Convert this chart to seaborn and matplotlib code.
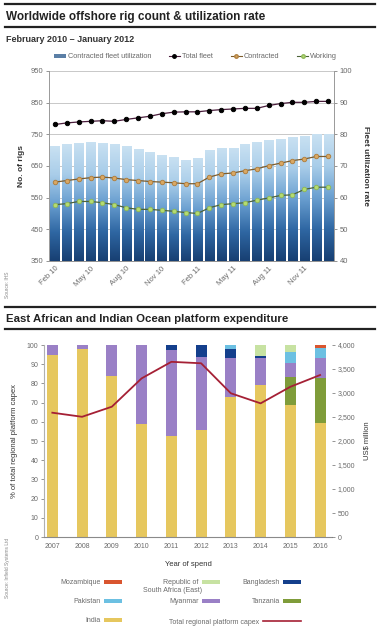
import numpy as np
import pandas as pd
import seaborn as sns
import matplotlib.pyplot as plt
from matplotlib.patches import Patch
from matplotlib.lines import Line2D
from matplotlib.colors import LinearSegmentedColormap

# ---- top chart data: Feb 2010 - Jan 2012 ----
months = ['Feb 10', 'Mar 10', 'Apr 10', 'May 10', 'Jun 10', 'Jul 10', 'Aug 10', 'Sep 10',
          'Oct 10', 'Nov 10', 'Dec 10', 'Jan 11', 'Feb 11', 'Mar 11', 'Apr 11', 'May 11',
          'Jun 11', 'Jul 11', 'Aug 11', 'Sep 11', 'Oct 11', 'Nov 11', 'Dec 11', 'Jan 12']
tick_months = ['Feb 10', 'May 10', 'Aug 10', 'Nov 10', 'Feb 11', 'May 11', 'Aug 11', 'Nov 11']
utilization = [76.2, 76.9, 77.4, 77.6, 77.4, 76.8, 76.2, 75.3, 74.5, 73.4, 72.8, 71.9,
               72.6, 75.0, 75.8, 75.8, 76.9, 77.6, 78.1, 78.6, 79.0, 79.5, 80.0, 80.0]
total_fleet = [781, 786, 789, 791, 793, 791, 797, 802, 807, 815, 820, 821,
               821, 825, 828, 830, 832, 832, 841, 847, 851, 851, 854, 854]
contracted = [599, 604, 609, 613, 615, 612, 607, 604, 601, 599, 597, 594,
              594, 615, 625, 628, 635, 641, 651, 659, 667, 672, 680, 680]
working = [528, 531, 538, 538, 534, 528, 518, 513, 513, 510, 507, 503,
           500, 518, 528, 531, 534, 542, 549, 557, 559, 576, 583, 583]

# ---- bottom chart data: share of regional platform capex (%) ----
years = ['2007', '2008', '2009', '2010', '2011', '2012', '2013', '2014', '2015', '2016']
india = [95, 98, 84, 59, 52.5, 56, 73, 79, 69, 59.4]
tanzania = [0, 0, 0, 0, 0, 0, 0, 0, 14.6, 23.3]
myanmar = [5, 2, 16, 41, 45, 38, 20, 14, 6.9, 10.3]
bangladesh = [0, 0, 0, 0, 2.5, 6, 5, 1.5, 0, 0]
pakistan = [0, 0, 0, 0, 0, 0, 2, 0, 6, 5.3]
rsa_east = [0, 0, 0, 0, 0, 0, 0, 5.5, 3.5, 0]
mozambique = [0, 0, 0, 0, 0, 0, 0, 0, 0, 1.7]
total_capex = [2590, 2505, 2715, 3305, 3650, 3620, 2995, 2785, 3130, 3375]

plt.rcParams['font.family'] = ['Liberation Sans', 'DejaVu Sans']
grey = '#6a6a6a'

fig = plt.figure(figsize=(3.84, 6.4), dpi=100)

# ================= top chart =================
ax_u = fig.add_axes([0.1276, 0.5922, 0.7422, 0.2969])
rig = pd.DataFrame({'month': months, 'util': utilization, 'total': total_fleet,
                    'contracted': contracted, 'working': working})
sns.barplot(data=rig, x='month', y='util', color='#4d86bd', saturation=1, width=0.76,
            ax=ax_u, zorder=2)
ax_u.set_ylim(40, 100)
ax_u.set_yticks(range(40, 101, 10))

# gradient fill inside every bar
grad_cmap = LinearSegmentedColormap.from_list(
    'rig', ['#173f72', '#2f67a3', '#6a9fd0', '#a9cde9', '#c9e1f2'])
grad = np.linspace(0, 1, 256).reshape(-1, 1)
for bar in ax_u.patches:
    x0, w, h = bar.get_x(), bar.get_width(), bar.get_height()
    im = ax_u.imshow(grad, extent=[x0, x0 + w, 40, h], origin='lower', cmap=grad_cmap,
                     aspect='auto', zorder=2.1)
    im.set_clip_path(bar)
ax_u.set_xlim(-0.5, len(months) - 0.5)
ax_u.set_ylim(40, 100)

ax_r = ax_u.twinx()
sns.pointplot(data=rig, x='month', y='total', ax=ax_r, color='#4a1d3c', errorbar=None,
              linewidth=0.9, markersize=3.2, markerfacecolor='black', markeredgecolor='black')
sns.pointplot(data=rig, x='month', y='contracted', ax=ax_r, color='#7d5c2c', errorbar=None,
              linewidth=0.9, markersize=3.2, markerfacecolor='#d9a864', markeredgecolor='#b08040')
sns.pointplot(data=rig, x='month', y='working', ax=ax_r, color='#4c6338', errorbar=None,
              linewidth=0.9, markersize=3.2, markerfacecolor='#b5dc72', markeredgecolor='#8fb85a')
ax_r.set_ylim(350, 950)
ax_r.set_yticks(range(350, 951, 100))
ax_r.set_xlim(-0.5, len(months) - 0.5)

# swap sides: rigs on the left, utilization on the right
ax_u.yaxis.tick_right()
ax_u.yaxis.set_label_position('right')
ax_r.yaxis.tick_left()
ax_r.yaxis.set_label_position('left')
ax_u.set_ylabel('Fleet utilization rate', rotation=270, labelpad=12, fontsize=6,
                fontweight='bold', color='#333333')
ax_r.set_ylabel('No. of rigs', fontsize=6, fontweight='bold', color='#333333', labelpad=4)
ax_u.set_xlabel('')
ax_r.set_xlabel('')

ax_u.set_axisbelow(True)
ax_u.yaxis.grid(True, color='#c8c8c8', linewidth=0.7)
ax_u.set_xticks([months.index(m) for m in tick_months])
ax_u.set_xticklabels(tick_months, rotation=45, ha='right', rotation_mode='anchor')
for a in (ax_u, ax_r):
    a.tick_params(labelsize=5.5, colors=grey, length=2, width=0.5, pad=2)
    for s in a.spines.values():
        s.set_color('#9a9a9a')
        s.set_linewidth(0.6)
    a.spines['top'].set_visible(False)
ax_u.spines['bottom'].set_color('#555555')
ax_u.tick_params(axis='x', length=0, pad=3)

fig.legend(handles=[Patch(facecolor='#5b7fa6', label='Contracted fleet utilization'),
                    Line2D([], [], color='#4a1d3c', marker='o', mfc='black', mec='black',
                           ms=2.5, lw=0.8, label='Total fleet'),
                    Line2D([], [], color='#7d5c2c', marker='o', mfc='#d9a864', mec='#b08040',
                           ms=2.5, lw=0.8, label='Contracted'),
                    Line2D([], [], color='#4c6338', marker='o', mfc='#b5dc72', mec='#8fb85a',
                           ms=2.5, lw=0.8, label='Working')],
           loc='center', bbox_to_anchor=(0.51, 0.911), ncol=4, frameon=False, fontsize=5.3,
           handlelength=1.5, handleheight=0.6, handletextpad=0.3, columnspacing=2.4,
           labelcolor=grey)

# ================= bottom chart =================
ax_b = fig.add_axes([0.1146, 0.1609, 0.75, 0.3])
layers = [('India', india, '#e6c75e'), ('Tanzania', tanzania, '#7f9c3a'),
          ('Myanmar', myanmar, '#9a80c6'), ('Bangladesh', bangladesh, '#143f8c'),
          ('Pakistan', pakistan, '#6cc0e2'), ('Republic of', rsa_east, '#c7e2a2'),
          ('Mozambique', mozambique, '#d9552f')]
stack = np.cumsum([vals for _, vals, _ in layers], axis=0)
for (name, _, col), tops in reversed(list(zip(layers, stack))):
    sns.barplot(x=years, y=tops, color=col, saturation=1, width=0.37, ax=ax_b)
ax_b.set_ylim(0, 100)
ax_b.set_yticks(range(0, 101, 10))
ax_b.set_xlim(-0.28, 9.4)
ax_b.set_xlabel('Year of spend', fontsize=5.5, color='#333333', labelpad=8)
ax_b.set_ylabel('% of total regional platform capex', fontsize=5.5, color='#333333', labelpad=6)

ax_c = ax_b.twinx()
sns.lineplot(x=years, y=total_capex, ax=ax_c, color='#a52035', linewidth=1.3, sort=False)
ax_c.set_ylim(0, 4000)
ax_c.set_yticks(range(0, 4001, 500))
ax_c.set_yticklabels([f'{v:,}' for v in range(0, 4001, 500)])
ax_c.set_ylabel('US$ million', fontsize=5.5, color='#333333', labelpad=6)
ax_c.set_xlim(-0.28, 9.4)

for a in (ax_b, ax_c):
    a.tick_params(labelsize=5, colors=grey, length=2, width=0.5, pad=2)
    for s in a.spines.values():
        s.set_visible(False)
ax_b.spines['left'].set_visible(True)
ax_b.spines['left'].set_color('#b0b0b0')
ax_b.spines['bottom'].set_visible(True)
ax_b.spines['bottom'].set_color('#8a8a8a')
ax_b.tick_params(axis='x', length=0, pad=4)

# legend: three right-aligned columns, label before swatch
leg_kw = dict(loc='upper right', frameon=False, markerfirst=False, fontsize=5,
              handlelength=2.5, handleheight=0.5, handletextpad=0.5, labelspacing=1.76,
              labelcolor=grey)
columns = [([6, 4, 0], 0.333), ([5, 2], 0.588), ([3, 1], 0.799)]
for idx, xr in columns:
    fig.legend(handles=[Patch(facecolor=layers[i][2], label=layers[i][0]) for i in idx],
               bbox_to_anchor=(xr, 0.105), **leg_kw)
fig.text(0.527, 0.078, 'South Africa (East)', fontsize=5, color=grey, ha='right', va='center')
fig.legend(handles=[Line2D([], [], color='#a52035', lw=1.2, label='Total regional platform capex')],
           loc='center right', bbox_to_anchor=(0.80, 0.028), frameon=False, markerfirst=False,
           fontsize=5, handlelength=5.5, handletextpad=0.5, labelcolor=grey)

# ================= titles, rules, sources =================
for y in (0.9935, 0.958, 0.521, 0.486):
    fig.add_artist(Line2D([0.013, 0.977], [y, y], color='#222222', linewidth=1.6))
fig.text(0.015, 0.974, 'Worldwide offshore rig count & utilization rate', fontsize=8.5,
         fontweight='bold', color='#222222', va='center')
fig.text(0.015, 0.939, 'February 2010 \u2013 January 2012', fontsize=6.5, fontweight='bold',
         color='#333333', va='center')
fig.text(0.015, 0.502, 'East African and Indian Ocean platform expenditure', fontsize=8.2,
         fontweight='bold', color='#222222', va='center')
fig.text(0.02, 0.575, 'Source: IHS', rotation=90, fontsize=3.5, color='#888888',
         va='top', ha='center')
fig.text(0.02, 0.16, 'Source: Infield Systems Ltd', rotation=90, fontsize=3.5, color='#888888',
         va='top', ha='center')

fig.savefig('out.png', dpi=100)
